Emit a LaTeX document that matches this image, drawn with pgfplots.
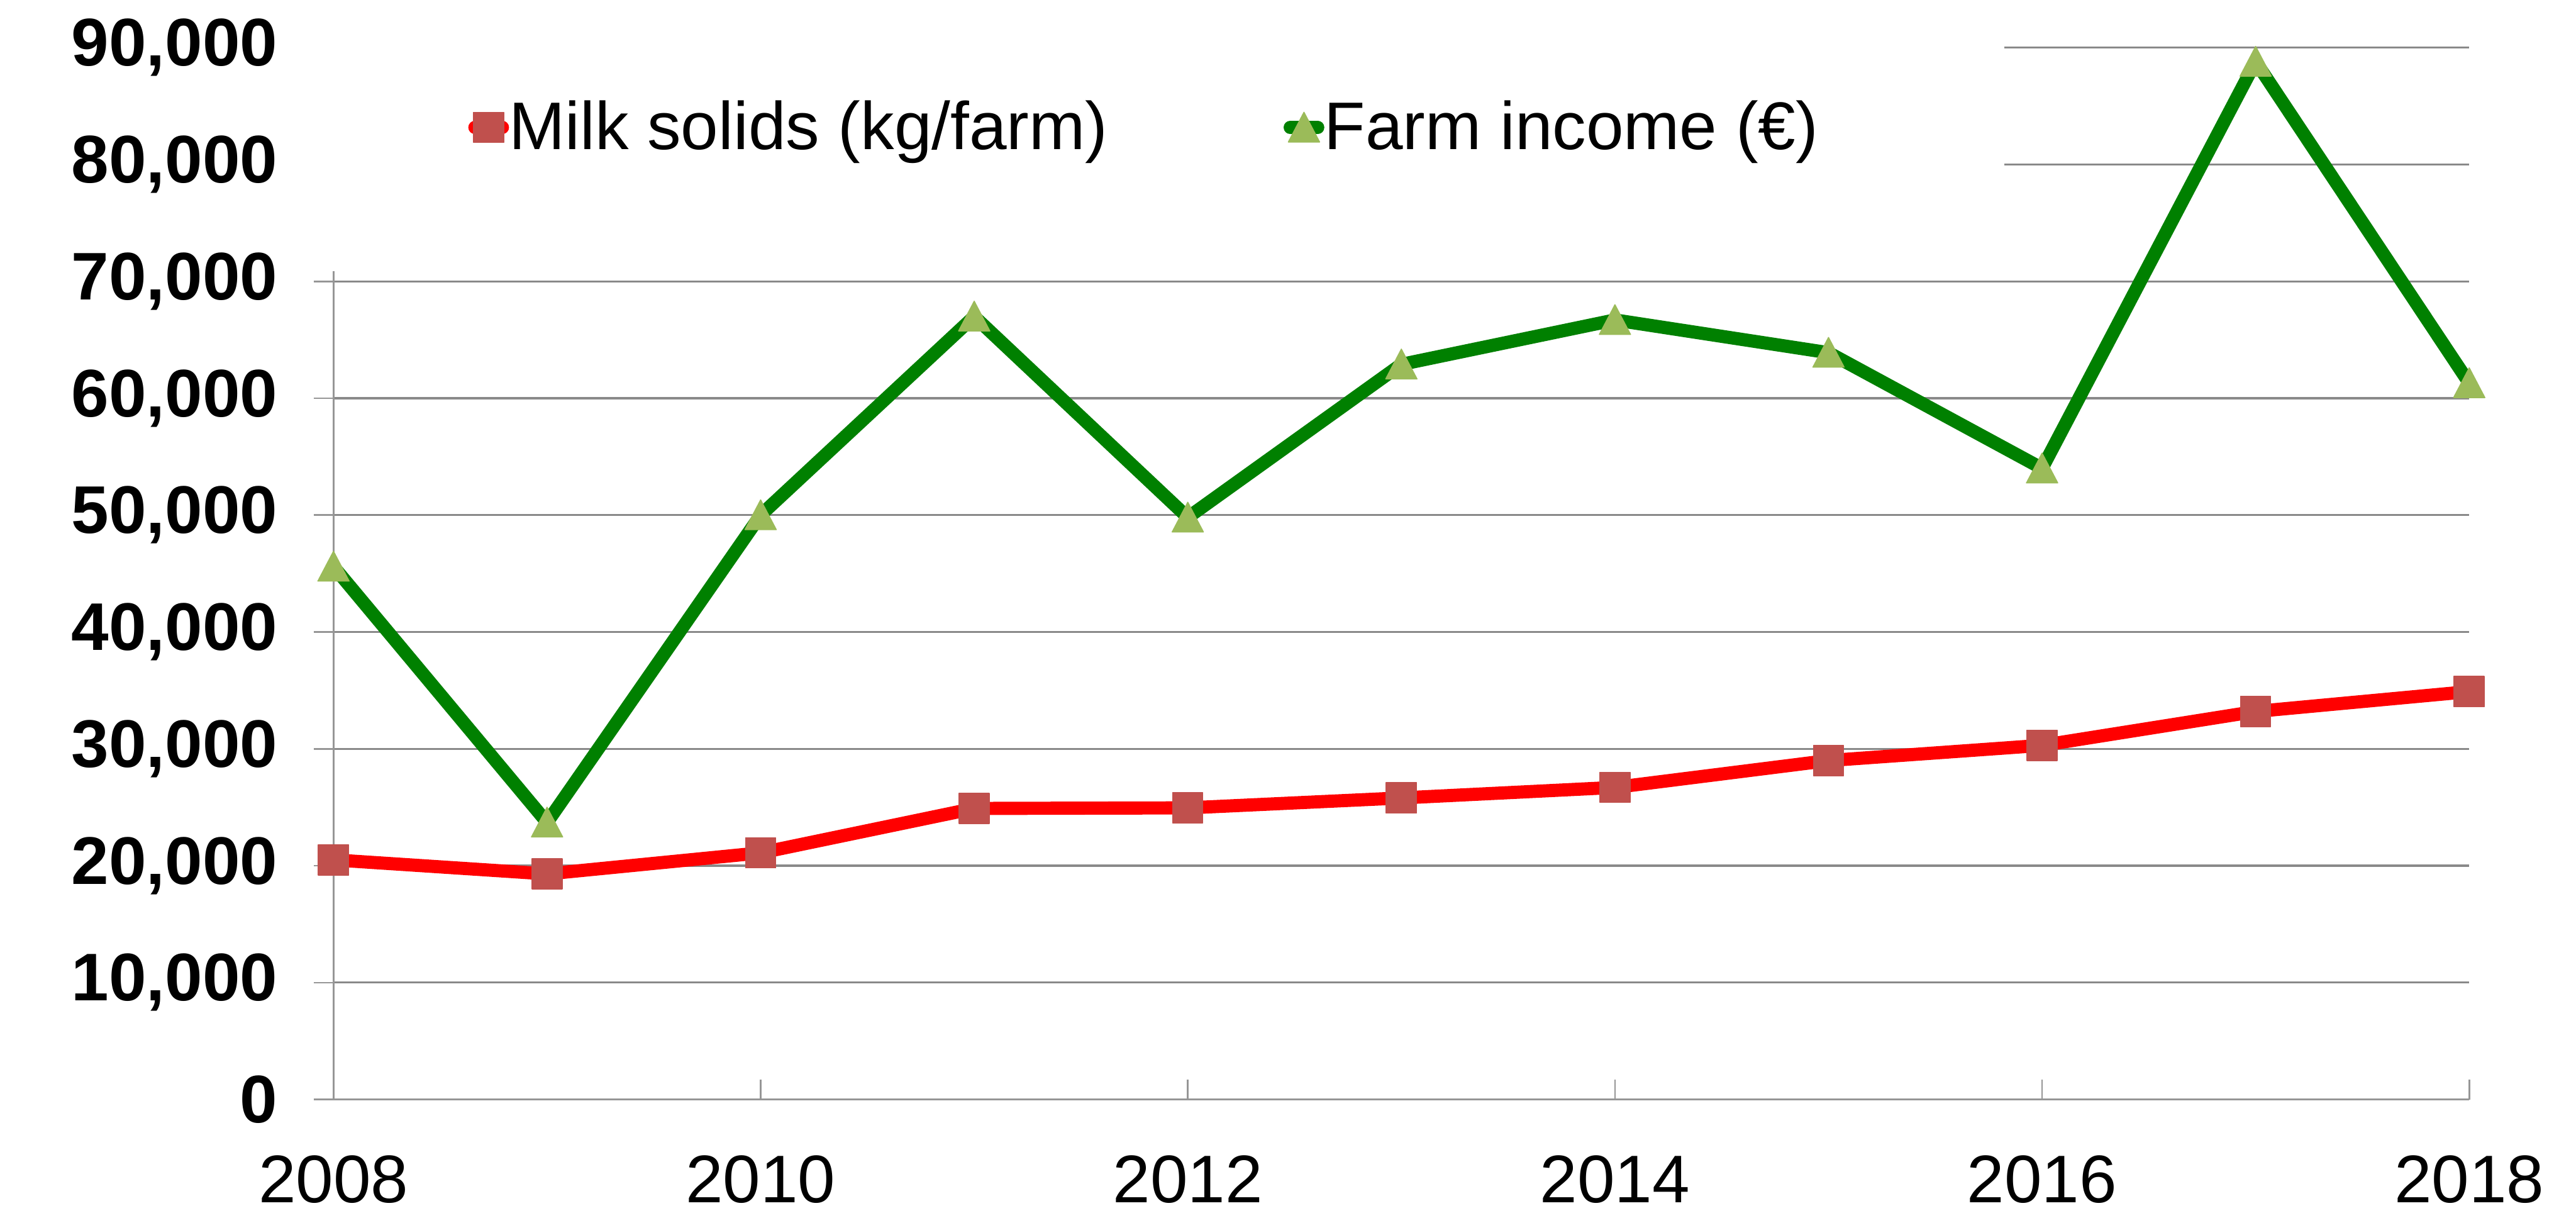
\documentclass[border=0pt]{standalone}
\usepackage{fontspec}
\setmainfont{Liberation Sans}
\usepackage{pgfplots}
\pgfplotsset{compat=1.18}
\definecolor{milkline}{RGB}{255,0,0}
\definecolor{milkmark}{RGB}{192,80,77}
\definecolor{incline}{RGB}{0,128,0}
\definecolor{incmark}{RGB}{155,187,89}
\definecolor{gridc}{RGB}{137,137,137}
\definecolor{axisc}{RGB}{150,150,150}
\begin{document}
\begin{tikzpicture}
\begin{axis}[
  scale only axis, width=650pt, height=320pt,
  xmin=2008, xmax=2018, ymin=0, ymax=90000,
  xtick={2008,2010,...,2018},
  ytick={0,10000,...,90000},
  axis x line*=bottom, axis y line*=left,
  axis line style={axisc, line width=0.5pt},
  ymajorgrids, grid style={gridc, line width=0.6pt},
  tick align=outside, major tick length=6pt,
  tick style={axisc, line width=0.5pt},
  xtick style={yshift=6pt},
  scaled y ticks=false,
  /pgf/number format/assume math mode=true,
  yticklabel style={font=\fontsize{20.5}{24}\selectfont\bfseries, xshift=-7.5pt, /pgf/number format/fixed, /pgf/number format/1000 sep={,}},
  xticklabel style={font=\fontsize{20.5}{24}\selectfont, yshift=-7.5pt, /pgf/number format/1000 sep={}},
  clip=false,
  legend columns=2,
  legend image code/.code={\draw[mark repeat=2, mark phase=2, line cap=round, #1] plot coordinates {(-4.2pt,0pt) (0pt,0pt) (4.2pt,0pt)};},
  legend style={at={(rel axis cs:0.0628,0.9241)}, anchor=west, draw=none, fill=none, inner sep=0pt,
    font=\fontsize{20.5}{24}\selectfont, nodes={inner sep=0pt},
    /tikz/every even column/.append style={column sep=53.5pt}},
]
\addplot[milkline, line width=4pt, line join=round, mark=square*, mark size=4.6pt,
  mark options={fill=milkmark, draw=milkmark, line width=0.3pt, solid}]
  coordinates {(2008,20500) (2009,19300) (2010,21100) (2011,24900) (2012,24950) (2013,25800) (2014,26700) (2015,29000) (2016,30300) (2017,33200) (2018,34900)};
\addlegendentry{Milk solids (kg/farm)}
\addplot[incline, line width=4pt, line join=round, mark=triangle*, mark size=5.5pt,
  mark options={fill=incmark, draw=incmark, line width=0.3pt, solid, yshift=-1.4pt, yscale=1.1}]
  coordinates {(2008,45600) (2009,23700) (2010,50000) (2011,67000) (2012,49800) (2013,62900) (2014,66700) (2015,63900) (2016,54000) (2017,88800) (2018,61300)};
\addlegendentry{Farm income (€)}
\fill[white] (rel axis cs:-0.0177,0.7875) rectangle (rel axis cs:0.7823,1.04);
\end{axis}
\pgfresetboundingbox
\path ([shift={(-101.5pt,-36pt)}]current axis.south west) rectangle ([shift={(32.5pt,14.5pt)}]current axis.north east);
\end{tikzpicture}
\end{document}
